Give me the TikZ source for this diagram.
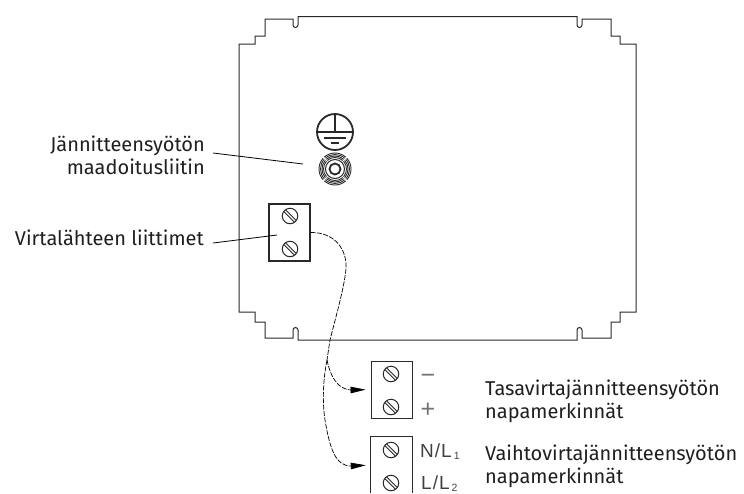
\documentclass[tikz,border=0pt]{standalone}
\usepackage{fontspec}
\setmainfont{Fira Sans}
\newfontfamily\termfont{Liberation Sans}
\usetikzlibrary{arrows.meta}
\definecolor{inkgrey}{gray}{0.16}
\tikzset{
    panel/.style={draw=inkgrey, line width=1pt, line join=miter},
    caption/.style={font=\fontsize{20}{23}\selectfont, text=black!88, inner sep=0pt},
    leader/.style={draw=black, line width=0.8pt},
    wire/.style={draw=black, line width=0.7pt, dash pattern=on 5pt off 1.4pt},
    feed/.style={wire, -{Stealth[length=15pt, width=6.5pt, inset=0pt]}, shorten >=5pt},
    block/.style={rectangle, minimum width=41pt, minimum height=57pt, inner sep=0pt},
    screw/.style={circle, draw=inkgrey, line width=1pt, minimum size=15.5pt, inner sep=0pt,
        path picture={\draw[inkgrey, line width=0.9pt, double=white, double distance=1.4pt]
            (path picture bounding box.north west) -- (path picture bounding box.south east);}},
    termmark/.style={font=\termfont\fontsize{19}{22}\selectfont, text=black!75, inner sep=0pt},
    signmark/.style={font=\termfont\fontsize{25}{25}\selectfont, text=black!55, inner sep=0pt},
}
\newcommand{\termsub}[1]{\kern2pt\raisebox{-2pt}{\fontsize{10.5}{12}\selectfont #1}}
\begin{document}
\begin{tikzpicture}[x=1pt, y=-1pt]
        \useasboundingbox (0,0) rectangle (744,493);

        % Panel
        \draw[panel] (239,44) -- (255,44) -- (255,36) -- (265,36) -- (265,19) -- (293,19)
            -- (293,25) arc[start angle=180, end angle=0, radius=2.5] -- (298,16.5)
            -- (577,16.5) -- (577,25) arc[start angle=180, end angle=0, radius=2.5] -- (582,19)
            -- (611,19) -- (611,36) -- (620,36) -- (620,44) -- (636,44) -- (636,312)
            -- (620,312) -- (620,322) -- (611,322) -- (611,338) -- (582,338)
            -- (582,330) arc[start angle=0, end angle=-180, radius=2.5] -- (577,340)
            -- (298,340) -- (298,330) arc[start angle=0, end angle=-180, radius=2.5] -- (293,338)
            -- (265,338) -- (265,322) -- (255,322) -- (255,312) -- (239,312) -- cycle;

        % Earth symbol
        \node[circle, draw=inkgrey, line width=1.8pt, minimum size=36pt, inner sep=0pt] at (335,132) (earth) {};
        \draw[inkgrey, line width=1.7pt] (earth.north) -- (earth.center);
        \draw[inkgrey, line width=1.7pt] (earth.west) -- (earth.east);
        \draw[inkgrey, line width=2pt] (324,137.5) -- (346,137.5);
        \draw[inkgrey, line width=2pt] (331,143) -- (339,143);

        % Earth stud
        \node[circle, draw=inkgrey, line width=1.8pt, minimum size=11pt, inner sep=0pt] at (335,169) (stud) {};
        \draw[inkgrey, line width=1pt] (stud) circle[radius=9.5];
        \foreach \r in {11.5,13,14.5,16}
            \foreach \a in {-42,48,138,228}
                \draw[inkgrey, line width=0.9pt] (stud) ++(\a:\r) arc[start angle=\a, delta angle=84, radius=\r];

        % Blocks
        \node[block, draw=inkgrey, line width=1.2pt] at (289.5,232.5) (supply) {};
        \node[screw] at (290,216) (supplyA) {};
        \node[screw] at (290,249) (supplyB) {};

        \node[block, draw=inkgrey, line width=0.9pt] at (391.5,389.5) (dcblock) {};
        \node[screw] at (391,374) (dcA) {};
        \node[screw] at (391,407) (dcB) {};

        \node[block, minimum height=56pt] at (391.5,465) (acblock) {};
        \draw[inkgrey, line width=0.9pt] (acblock.south west) -- (acblock.north west) -- (acblock.north east) -- (acblock.south east);
        \node[screw] at (391,450) (acA) {};
        \node[screw] at (391,483) (acB) {};

        % Terminal marks
        \node[signmark, anchor=base] at (428,383) (minus) {\textminus};
        \node[signmark, anchor=base] at (428,417.5) (plus) {+};
        \node[termmark, anchor=base west] at (420,457) (lineA) {N\kern1pt/\kern1ptL\termsub{1}};
        \node[termmark, anchor=base west] at (421,489.5) (lineB) {L\kern1pt/\kern1ptL\termsub{2}};

        % Labels
        \node[caption, anchor=base east] at (205,151) (earthtop) {Jännitteensyötön};
        \node[caption, anchor=base east] at (205,174) (earthlow) {maadoitusliitin};
        \node[caption, anchor=base east] at (204,245) (supplytxt) {Virtalähteen liittimet};
        \node[caption, anchor=base west] at (485,395) (dctop) {Tasavirtajännitteensyötön};
        \node[caption, anchor=base west] at (485,418) (dclow) {napamerkinnät};
        \node[caption, anchor=base west] at (485,460) (actop) {Vaihtovirtajännitteensyötön};
        \node[caption, anchor=base west] at (485,483) (aclow) {napamerkinnät};

        % Leaders
        \coordinate (earthend) at (303,164);
        \coordinate (supplyend) at (277,235);
        \draw[leader] (213,153) -- (earthend);
        \draw[leader] (213,243) -- (supplyend);

        % Wires
        \coordinate (split) at (327,360);
        \draw[wire] (supply.east) .. controls (335,232) and (347,250) .. (346,268)
            .. controls (345,285) and (335,320) .. (330,340) -- (split);
        \draw[feed] (split) .. controls (330,375) and (337,390) .. (352,390) -- (dcblock.west);
        \draw[feed] (split) .. controls (322,385) and (323,407) .. (325,420)
            .. controls (330,450) and (336,466) .. (351,466) -- (acblock.west);
    \end{tikzpicture}
\end{document}
